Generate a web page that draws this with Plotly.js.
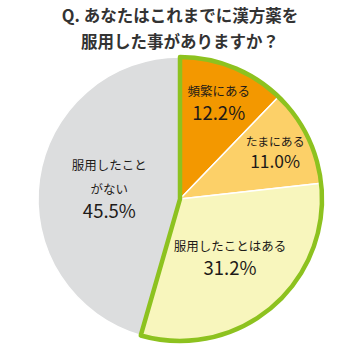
<!DOCTYPE html>
<html>
<head>
<meta charset="utf-8">
<script src="https://cdn.plot.ly/plotly-3.0.1.min.js"></script>
<style>html,body{margin:0;padding:0;background:#fff;}#chart{width:360px;height:360px;}</style>
</head>
<body>
<div id="chart"></div>
<script>
const categories = ["頻繁にある", "たまにある", "服用したことはある", "服用したこと<br>がない"];
const values = [12.2, 11.0, 31.2, 45.5];
const colors = ["#f39800", "#fcd068", "#f8f6bd", "#dcddde"];
const groupLabels = ["服用経験あり", "服用経験なし"];
const groupValues = [values[0] + values[1] + values[2], values[3]];
const titleLines = ["Q. あなたはこれまでに漢方薬を", "服用した事がありますか？"];

const font = "'Noto Sans CJK JP', 'Noto Sans', sans-serif";

const main = {
  type: "pie",
  labels: categories,
  values: values,
  sort: false,
  direction: "clockwise",
  rotation: 0,
  marker: {colors: colors, line: {color: "#ffffff", width: 1.5}},
  texttemplate: "<span style='font-size:12.5px'>%{label}</span><br>%{value:.1f}%",
  textposition: "inside",
  insidetextorientation: "horizontal",
  textfont: {family: font, size: 18.5, color: "#1e1a18"},
  hoverinfo: "none",
  showlegend: false,
  domain: {x: [0, 1], y: [0, 1]}
};

const outline = {
  type: "pie",
  labels: groupLabels,
  values: groupValues,
  sort: false,
  direction: "clockwise",
  rotation: 0,
  marker: {colors: ["rgba(0,0,0,0)", "rgba(0,0,0,0)"], line: {color: ["#8dc21f", "rgba(0,0,0,0)"], width: [4.5, 0]}},
  textinfo: "none",
  hoverinfo: "none",
  showlegend: false,
  domain: {x: [0, 1], y: [0, 1]}
};

const layout = {
  width: 360, height: 360,
  margin: {l: 38, r: 38, t: 57, b: 19},
  paper_bgcolor: "#ffffff",
  title: {
    text: titleLines.map(t => "<span style='font-size:16.5px'>" + t + "</span>").join("<br>"),
    font: {family: font, size: 20, color: "#333333", weight: 700},
    x: 0.5, xanchor: "center", y: 0.94, yanchor: "top", yref: "container"
  },
  showlegend: false
};

Plotly.newPlot("chart", [main, outline], layout, {staticPlot: true});
</script>
</body>
</html>
